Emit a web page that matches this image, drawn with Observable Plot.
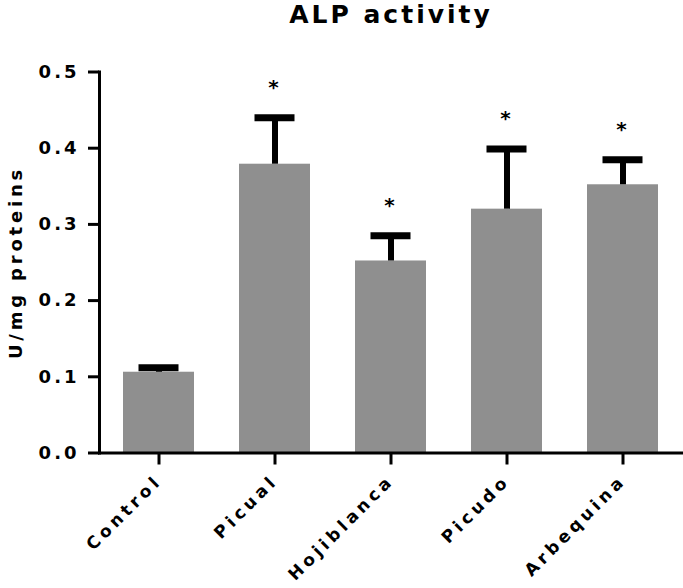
<!DOCTYPE html>
<html>
<head>
<meta charset="utf-8">
<script src="https://cdn.jsdelivr.net/npm/d3@7"></script>
<script src="https://cdn.jsdelivr.net/npm/@observablehq/plot@0.6"></script>
<style>
  html, body { margin: 0; padding: 0; background: #fff; }
  #chart svg { font-family: "DejaVu Sans", "Liberation Sans", Arial, sans-serif; font-weight: bold; }
  #chart svg text { letter-spacing: 3px; }
  #chart svg g[aria-label="x-axis tick label"] text { letter-spacing: 4px; }
  #chart svg g.ylabel text { letter-spacing: 3.8px; }
</style>
</head>
<body>
<div id="chart"></div>
<script>
const categories = ["Control", "Picual", "Hojiblanca", "Picudo", "Arbequina"];
const means = [0.106, 0.379, 0.252, 0.320, 0.352];
const uppers = [0.112, 0.440, 0.285, 0.399, 0.385];
const signif = ["", "*", "*", "*", "*"];
const yTicks = [0, 0.1, 0.2, 0.3, 0.4, 0.5];
const title = "ALP activity";
const yLabel = "U/mg proteins";

const data = categories.map((c, i) => ({cat: c, mean: means[i], upper: uppers[i], sig: signif[i]}));

const chart = Plot.plot({
  width: 683,
  height: 588,
  marginLeft: 99,
  marginRight: 1,
  marginTop: 71.5,
  marginBottom: 135.5,
  style: {fontFamily: '"DejaVu Sans", "Liberation Sans", Arial, sans-serif', fontWeight: "bold", background: "#fff"},
  x: {type: "band", domain: categories, paddingInner: 0.39, paddingOuter: 0.19, label: null},
  y: {domain: [0, 0.5], label: null},
  marks: [
    Plot.barY(data, {x: "cat", y: "mean", fill: "#8f8f8f"}),
    Plot.ruleX(data, {x: "cat", y1: "mean", y2: "upper", stroke: "#000", strokeWidth: 6}),
    Plot.tickY(data, {x: "cat", y: "upper", stroke: "#000", strokeWidth: 7, insetLeft: 15.5, insetRight: 15.5}),
    Plot.text(data, {x: "cat", y: "upper", text: "sig", dy: -30, fontSize: 20, fontWeight: "bold", fill: "#000"}),
    Plot.frame({anchor: "left", stroke: "#000", strokeWidth: 3}),
    Plot.frame({anchor: "bottom", stroke: "#000", strokeWidth: 3}),
    Plot.axisY({ticks: yTicks, tickFormat: d3.format(".1f"), tickSize: 11, tickPadding: 9, strokeWidth: 3, fontSize: 18, fontWeight: "bold", label: null}),
    Plot.axisX({tickSize: 12, tickPadding: 13, tickRotate: -45, strokeWidth: 3, fontSize: 17, fontWeight: "bold", label: null}),
    Plot.text([yLabel], {frameAnchor: "left", textAnchor: "middle", rotate: -90, dx: -83, fontSize: 18, fontWeight: "bold", fill: "#000", className: "ylabel"}),
    Plot.text([title], {frameAnchor: "top", textAnchor: "middle", dy: -67, fontSize: 25, fontWeight: "bold", fill: "#000"})
  ]
});
document.getElementById("chart").appendChild(chart);
</script>
</body>
</html>
